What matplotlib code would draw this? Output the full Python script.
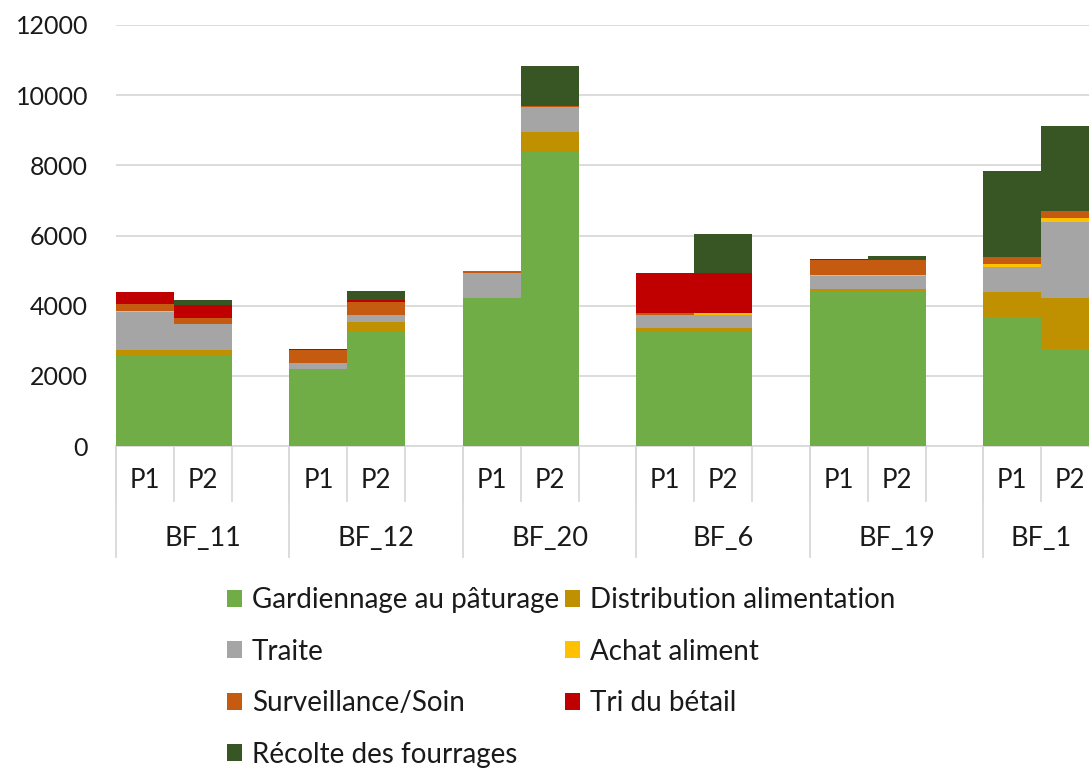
import matplotlib
matplotlib.use("Agg")
import matplotlib.pyplot as plt
import matplotlib.transforms as mtransforms
from matplotlib.patches import Patch
import numpy as np

plt.rcParams['font.family'] = ['Lato', 'DejaVu Sans']

groups = ["BF_11", "BF_12", "BF_20", "BF_6", "BF_19", "BF_1"]
periods = ["P1", "P2"]

series_names = ["Gardiennage au pâturage", "Distribution alimentation", "Traite",
                "Achat aliment", "Surveillance/Soin", "Tri du bétail", "Récolte des fourrages"]
colors = ["#70AD47", "#BF9000", "#A5A5A5", "#FFC000", "#C55A11", "#C00000", "#375623"]

# values per bar: BF_11 P1, P2, BF_12 P1, P2, BF_20 P1, P2, BF_6 P1, P2, BF_19 P1, P2, BF_1 P1, P2
gardiennage  = [2566, 2566, 2196, 3279, 4220, 8412, 3279, 3279, 4400, 4400, 3669, 2746]
distribution = [170, 170, 0, 266, 0, 541, 95, 95, 77, 77, 731, 1474]
traite       = [1093, 733, 180, 190, 722, 723, 361, 361, 380, 380, 713, 2176]
achat        = [28, 0, 0, 0, 0, 0, 0, 48, 19, 19, 85, 114]
surveillance = [182, 171, 361, 362, 38, 25, 48, 0, 428, 428, 191, 182]
tri          = [351, 389, 29, 66, 0, 0, 1141, 1141, 28, 0, 0, 0]
recolte      = [0, 124, 0, 266, 0, 1140, 0, 1130, 0, 123, 2444, 2441]

series = [gardiennage, distribution, traite, achat, surveillance, tri, recolte]

W, H = 1089, 769
fig = plt.figure(figsize=(W / 100, H / 100), dpi=100)
ax_left, ax_right = 116, 1099
ax_top, ax_bot = 25, 446
ax = fig.add_axes([ax_left / W, (H - ax_bot) / H, (ax_right - ax_left) / W, (ax_bot - ax_top) / H])

# slot positions: 3 slots per group (P1, P2, blank), last group has 2
xpos = []
for g in range(len(groups)):
    for p in range(len(periods)):
        xpos.append(3 * g + p)
xpos = np.array(xpos)
nslots = 3 * (len(groups) - 1) + 2

bottom = np.zeros(len(xpos))
for name, vals, col in zip(series_names, series, colors):
    vals = np.array(vals, dtype=float)
    ax.bar(xpos, vals, width=1.0, bottom=bottom, color=col, edgecolor='none', zorder=3)
    bottom += vals

ax.set_xlim(-0.5, nslots - 0.5)
ax.set_ylim(0, 12000)
ax.set_yticks(np.arange(0, 12001, 2000))
ax.yaxis.grid(True, color="#D9D9D9", linewidth=1.3, zorder=0)
ax.set_axisbelow(True)
for s in ["top", "right", "left"]:
    ax.spines[s].set_visible(False)
ax.spines["bottom"].set_color("#D9D9D9")
ax.spines["bottom"].set_linewidth(1.3)
ax.tick_params(axis='y', length=0, pad=20, labelsize=18, labelcolor="#1a1a1a")
ax.set_xticks([])

ah = ax_bot - ax_top
trans = mtransforms.blended_transform_factory(ax.transData, ax.transAxes)
row1_y = -55 / ah
row2_y = -111 / ah
for i in range(nslots + 1):
    ax.plot([i - 0.5, i - 0.5], [0, row1_y], transform=trans, color="#D9D9D9",
            linewidth=1.3, clip_on=False)
for g in range(len(groups)):
    x0 = 3 * g - 0.5
    ax.plot([x0, x0], [0, row2_y], transform=trans, color="#D9D9D9",
            linewidth=1.3, clip_on=False)

for g, gname in enumerate(groups):
    for p, pname in enumerate(periods):
        ax.text(3 * g + p, -35 / ah, pname, transform=trans, ha='center', va='center',
                fontsize=18.5, color="#1a1a1a")
    n = 3 if g < len(groups) - 1 else 2
    center = 3 * g - 0.5 + n / 2
    ax.text(center, -92 / ah, gname, transform=trans, ha='center', va='center',
            fontsize=19.5, color="#1a1a1a")

handles = [Patch(facecolor=c, edgecolor='none') for c in colors]
order = [0, 2, 4, 6, 1, 3, 5]
leg = fig.legend([handles[i] for i in order], [series_names[i] for i in order],
                 ncol=2, frameon=False, loc='upper left',
                 bbox_to_anchor=(202 / W, 1 - 562 / H),
                 fontsize=20, handlelength=0.55, handleheight=0.55,
                 handletextpad=0.35, columnspacing=0.2, labelspacing=0.92)
for t in leg.get_texts():
    t.set_color("#1a1a1a")

fig.savefig("out.png", dpi=100)
